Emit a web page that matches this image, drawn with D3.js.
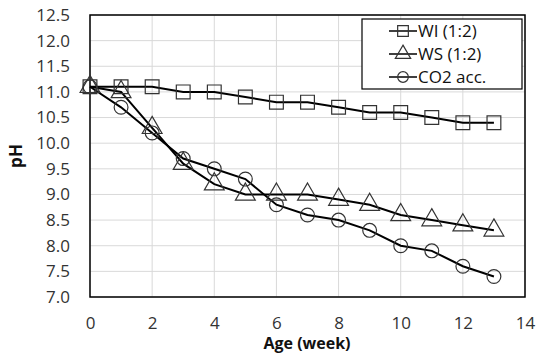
<!DOCTYPE html>
<html>
<head>
<meta charset="utf-8">
<script src="https://cdn.jsdelivr.net/npm/d3@7"></script>
<style>
  body { margin: 0; background: #fff; }
  text { font-family: "Open Sans", "Liberation Sans", sans-serif; }
</style>
</head>
<body>
<div id="chart"></div>
<script>
const weeks = [0, 1, 2, 3, 4, 5, 6, 7, 8, 9, 10, 11, 12, 13];
const wi = [11.1, 11.1, 11.1, 11.0, 11.0, 10.9, 10.8, 10.8, 10.7, 10.6, 10.6, 10.5, 10.4, 10.4];
const ws = [11.1, 11.0, 10.3, 9.6, 9.2, 9.0, 9.0, 9.0, 8.9, 8.8, 8.6, 8.5, 8.4, 8.3];
const co2 = [11.1, 10.7, 10.2, 9.7, 9.5, 9.3, 8.8, 8.6, 8.5, 8.3, 8.0, 7.9, 7.6, 7.4];
const seriesNames = ["WI (1:2)", "WS (1:2)", "CO2 acc."];
const xTicks = [0, 2, 4, 6, 8, 10, 12, 14];
const yTicks = [7.0, 7.5, 8.0, 8.5, 9.0, 9.5, 10.0, 10.5, 11.0, 11.5, 12.0, 12.5];

const width = 536, height = 356;
const m = {left: 90, top: 15, right: 11, bottom: 59};
const svg = d3.select("#chart").append("svg").attr("width", width).attr("height", height);

const x = d3.scaleLinear().domain([0, 14]).range([m.left, width - m.right]);
const y = d3.scaleLinear().domain([7, 12.5]).range([height - m.bottom, m.top]);

// grid
svg.append("g").selectAll("line").data(yTicks).join("line")
  .attr("x1", x(0)).attr("x2", x(14))
  .attr("y1", d => y(d)).attr("y2", d => y(d))
  .attr("stroke", "#d9d9d9").attr("stroke-width", 1);
svg.append("g").selectAll("line").data(xTicks).join("line")
  .attr("y1", y(7)).attr("y2", y(12.5))
  .attr("x1", d => x(d)).attr("x2", d => x(d))
  .attr("stroke", "#d9d9d9").attr("stroke-width", 1);

svg.append("rect").attr("x", x(0)).attr("y", y(12.5))
  .attr("width", x(14) - x(0)).attr("height", y(7) - y(12.5))
  .attr("fill", "none").attr("stroke", "#000").attr("stroke-width", 1.5);

// axes
const xAxis = svg.append("g").attr("transform", `translate(0,${y(7)})`)
  .call(d3.axisBottom(x).tickValues(xTicks).tickSize(0).tickPadding(20).tickFormat(d3.format("d")));
const yAxis = svg.append("g").attr("transform", `translate(${x(0)},0)`)
  .call(d3.axisLeft(y).tickValues(yTicks).tickSize(0).tickPadding(20).tickFormat(d3.format(".1f")));
[xAxis, yAxis].forEach(a => {
  a.select(".domain").remove();
  a.selectAll("text").attr("font-size", 17).attr("fill", "#333")
    .style("font-family", "'Open Sans', sans-serif");
});

svg.append("text").attr("x", 307).attr("y", 349).attr("text-anchor", "middle")
  .attr("font-size", 16).attr("font-weight", "bold").attr("fill", "#111").text("Age (week)");
svg.append("text").attr("transform", "translate(22,156) rotate(-90)").attr("text-anchor", "middle")
  .attr("font-size", 17).attr("font-weight", "bold").attr("fill", "#111").text("pH");

const line = d3.line().x((d, i) => x(weeks[i])).y(d => y(d));
const shapes = [d3.symbolSquare, d3.symbolTriangle, d3.symbolCircle];
const sizes = [190, 170, 150];
const data = [wi, ws, co2];

data.forEach((vals, k) => {
  svg.append("path").datum(vals).attr("d", line)
    .attr("fill", "none").attr("stroke", "#000").attr("stroke-width", 2);
});
data.forEach((vals, k) => {
  svg.append("g").selectAll("path").data(vals).join("path")
    .attr("transform", (d, i) => `translate(${x(weeks[i])},${y(d)})`)
    .attr("d", d3.symbol().type(shapes[k]).size(sizes[k]))
    .attr("fill", "none").attr("stroke", "#333").attr("stroke-width", 1.2);
});

// legend
const lg = svg.append("g");
lg.append("rect").attr("x", 362).attr("y", 19).attr("width", 160).attr("height", 70)
  .attr("fill", "#fff").attr("stroke", "#000").attr("stroke-width", 1.2);
seriesNames.forEach((name, k) => {
  const ly = 31 + k * 23;
  lg.append("line").attr("x1", 389).attr("x2", 417).attr("y1", ly).attr("y2", ly)
    .attr("stroke", "#000").attr("stroke-width", 1.5);
  lg.append("path").attr("transform", `translate(403,${ly})`)
    .attr("d", d3.symbol().type(shapes[k]).size(sizes[k] * 0.6))
    .attr("fill", "none").attr("stroke", "#333").attr("stroke-width", 1.2);
  lg.append("text").attr("x", 418).attr("y", ly + 6).attr("font-size", 17).attr("fill", "#111").text(name);
});
</script>
</body>
</html>
